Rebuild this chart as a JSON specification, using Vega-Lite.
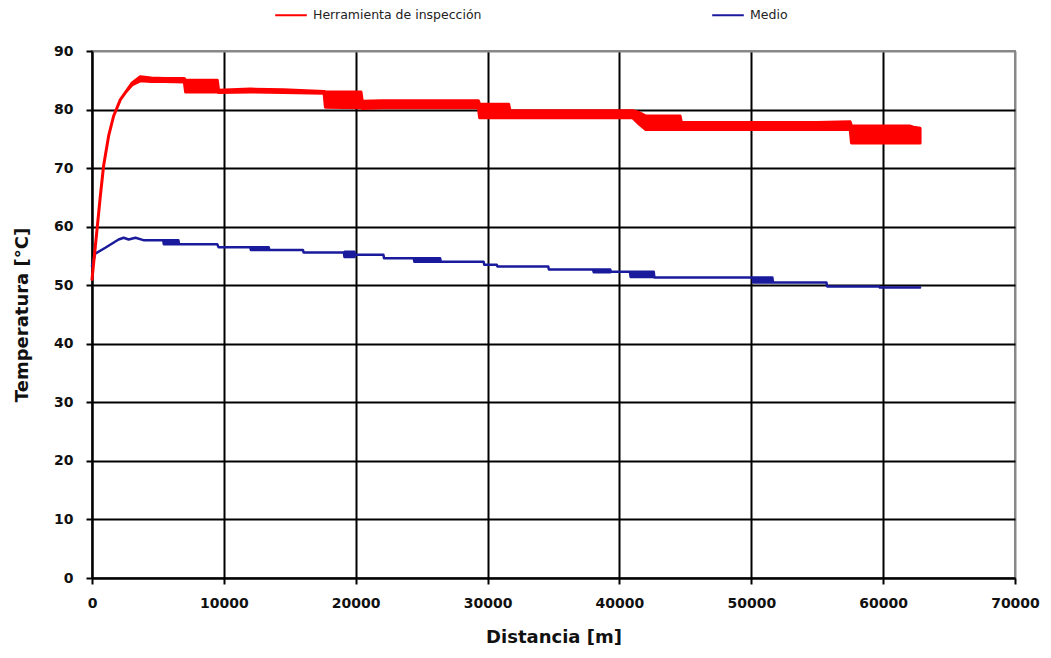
{
  "$schema": "https://vega.github.io/schema/vega-lite/v6.json",
  "width": 923,
  "height": 527,
  "autosize": {"type": "none"},
  "padding": {"left": 92, "top": 51, "right": 36, "bottom": 80},
  "background": "white",
  "config": {
    "view": {"stroke": "#888888", "strokeWidth": 2},
    "font": "DejaVu Sans",
    "axis": {
      "labelFont": "DejaVu Sans",
      "labelFontWeight": "bold",
      "labelFontSize": 14,
      "labelColor": "#111111",
      "titleFont": "DejaVu Sans",
      "titleFontWeight": "bold",
      "titleFontSize": 18,
      "titleColor": "#111111",
      "domainColor": "#000000",
      "domainWidth": 2,
      "tickColor": "#000000",
      "tickWidth": 2,
      "tickSize": 6,
      "gridWidth": 2
    }
  },
  "datasets": {
    "temps": [
      {"s": "Herramienta de inspección", "d": 0, "lo": 51, "hi": 51},
      {"s": "Herramienta de inspección", "d": 380, "lo": 59.5, "hi": 59.5},
      {"s": "Herramienta de inspección", "d": 630, "lo": 65.2, "hi": 65.2},
      {"s": "Herramienta de inspección", "d": 880, "lo": 70.4, "hi": 70.4},
      {"s": "Herramienta de inspección", "d": 1260, "lo": 75.5, "hi": 75.5},
      {"s": "Herramienta de inspección", "d": 1640, "lo": 78.9, "hi": 78.9},
      {"s": "Herramienta de inspección", "d": 2150, "lo": 81.7, "hi": 81.7},
      {"s": "Herramienta de inspección", "d": 2530, "lo": 82.9, "hi": 82.9},
      {"s": "Herramienta de inspección", "d": 3030, "lo": 84.2, "hi": 84.5},
      {"s": "Herramienta de inspección", "d": 3660, "lo": 84.9, "hi": 85.6},
      {"s": "Herramienta de inspección", "d": 4500, "lo": 84.8, "hi": 85.4},
      {"s": "Herramienta de inspección", "d": 5500, "lo": 84.8, "hi": 85.3},
      {"s": "Herramienta de inspección", "d": 7000, "lo": 84.7, "hi": 85.3},
      {"s": "Herramienta de inspección", "d": 7100, "lo": 83.0, "hi": 85.0},
      {"s": "Herramienta de inspección", "d": 9500, "lo": 83.0, "hi": 85.0},
      {"s": "Herramienta de inspección", "d": 9600, "lo": 82.9, "hi": 83.3},
      {"s": "Herramienta de inspección", "d": 12000, "lo": 83.0, "hi": 83.5},
      {"s": "Herramienta de inspección", "d": 14500, "lo": 82.9, "hi": 83.4},
      {"s": "Herramienta de inspección", "d": 17600, "lo": 82.8, "hi": 83.1},
      {"s": "Herramienta de inspección", "d": 17700, "lo": 80.4, "hi": 83.0},
      {"s": "Herramienta de inspección", "d": 20400, "lo": 80.3, "hi": 83.0},
      {"s": "Herramienta de inspección", "d": 20500, "lo": 80.2, "hi": 81.4},
      {"s": "Herramienta de inspección", "d": 22000, "lo": 80.3, "hi": 81.5},
      {"s": "Herramienta de inspección", "d": 29300, "lo": 80.3, "hi": 81.5},
      {"s": "Herramienta de inspección", "d": 29400, "lo": 78.6, "hi": 80.9},
      {"s": "Herramienta de inspección", "d": 31600, "lo": 78.6, "hi": 80.9},
      {"s": "Herramienta de inspección", "d": 31700, "lo": 78.6, "hi": 79.8},
      {"s": "Herramienta de inspección", "d": 41000, "lo": 78.6, "hi": 79.8},
      {"s": "Herramienta de inspección", "d": 41500, "lo": 77.5, "hi": 79.5},
      {"s": "Herramienta de inspección", "d": 42000, "lo": 76.6, "hi": 78.9},
      {"s": "Herramienta de inspección", "d": 44600, "lo": 76.6, "hi": 78.9},
      {"s": "Herramienta de inspección", "d": 44700, "lo": 76.6, "hi": 77.8},
      {"s": "Herramienta de inspección", "d": 55000, "lo": 76.6, "hi": 77.8},
      {"s": "Herramienta de inspección", "d": 57500, "lo": 76.6, "hi": 77.9},
      {"s": "Herramienta de inspección", "d": 57600, "lo": 74.3, "hi": 77.2},
      {"s": "Herramienta de inspección", "d": 62000, "lo": 74.3, "hi": 77.2},
      {"s": "Herramienta de inspección", "d": 62300, "lo": 74.3, "hi": 77.0},
      {"s": "Herramienta de inspección", "d": 62800, "lo": 74.3, "hi": 76.8},
      {"s": "Medio", "d": 0, "lo": 53.3, "hi": 53.3},
      {"s": "Medio", "d": 250, "lo": 55.4, "hi": 55.4},
      {"s": "Medio", "d": 1010, "lo": 56.4, "hi": 56.4},
      {"s": "Medio", "d": 2020, "lo": 57.8, "hi": 57.8},
      {"s": "Medio", "d": 2400, "lo": 58.1, "hi": 58.1},
      {"s": "Medio", "d": 2780, "lo": 57.8, "hi": 57.8},
      {"s": "Medio", "d": 3300, "lo": 58.1, "hi": 58.1},
      {"s": "Medio", "d": 3900, "lo": 57.7, "hi": 57.7},
      {"s": "Medio", "d": 5400, "lo": 57.7, "hi": 57.7},
      {"s": "Medio", "d": 5450, "lo": 57.0, "hi": 57.7},
      {"s": "Medio", "d": 6550, "lo": 57.0, "hi": 57.7},
      {"s": "Medio", "d": 6600, "lo": 57.0, "hi": 57.0},
      {"s": "Medio", "d": 9500, "lo": 57.0, "hi": 57.0},
      {"s": "Medio", "d": 9600, "lo": 56.5, "hi": 56.5},
      {"s": "Medio", "d": 12000, "lo": 56.5, "hi": 56.5},
      {"s": "Medio", "d": 12050, "lo": 56.0, "hi": 56.5},
      {"s": "Medio", "d": 13400, "lo": 56.0, "hi": 56.5},
      {"s": "Medio", "d": 13450, "lo": 56.0, "hi": 56.0},
      {"s": "Medio", "d": 16000, "lo": 56.0, "hi": 56.0},
      {"s": "Medio", "d": 16050, "lo": 55.6, "hi": 55.6},
      {"s": "Medio", "d": 19100, "lo": 55.6, "hi": 55.6},
      {"s": "Medio", "d": 19150, "lo": 54.8, "hi": 55.7},
      {"s": "Medio", "d": 19900, "lo": 54.8, "hi": 55.7},
      {"s": "Medio", "d": 19950, "lo": 55.2, "hi": 55.2},
      {"s": "Medio", "d": 22100, "lo": 55.2, "hi": 55.2},
      {"s": "Medio", "d": 22150, "lo": 54.6, "hi": 54.6},
      {"s": "Medio", "d": 24400, "lo": 54.6, "hi": 54.6},
      {"s": "Medio", "d": 24450, "lo": 54.0, "hi": 54.6},
      {"s": "Medio", "d": 26400, "lo": 54.0, "hi": 54.6},
      {"s": "Medio", "d": 26450, "lo": 54.0, "hi": 54.0},
      {"s": "Medio", "d": 29700, "lo": 54.0, "hi": 54.0},
      {"s": "Medio", "d": 29750, "lo": 53.5, "hi": 53.5},
      {"s": "Medio", "d": 30700, "lo": 53.5, "hi": 53.5},
      {"s": "Medio", "d": 30750, "lo": 53.2, "hi": 53.2},
      {"s": "Medio", "d": 34600, "lo": 53.2, "hi": 53.2},
      {"s": "Medio", "d": 34650, "lo": 52.7, "hi": 52.7},
      {"s": "Medio", "d": 38000, "lo": 52.7, "hi": 52.7},
      {"s": "Medio", "d": 38050, "lo": 52.2, "hi": 52.7},
      {"s": "Medio", "d": 39300, "lo": 52.2, "hi": 52.7},
      {"s": "Medio", "d": 39350, "lo": 52.3, "hi": 52.3},
      {"s": "Medio", "d": 40800, "lo": 52.3, "hi": 52.3},
      {"s": "Medio", "d": 40850, "lo": 51.4, "hi": 52.3},
      {"s": "Medio", "d": 42600, "lo": 51.4, "hi": 52.3},
      {"s": "Medio", "d": 42650, "lo": 51.3, "hi": 51.3},
      {"s": "Medio", "d": 50100, "lo": 51.3, "hi": 51.3},
      {"s": "Medio", "d": 50150, "lo": 50.45, "hi": 51.3},
      {"s": "Medio", "d": 51600, "lo": 50.45, "hi": 51.3},
      {"s": "Medio", "d": 51650, "lo": 50.45, "hi": 50.45},
      {"s": "Medio", "d": 55700, "lo": 50.45, "hi": 50.45},
      {"s": "Medio", "d": 55750, "lo": 49.8, "hi": 49.8},
      {"s": "Medio", "d": 59700, "lo": 49.8, "hi": 49.8},
      {"s": "Medio", "d": 59750, "lo": 49.6, "hi": 49.6},
      {"s": "Medio", "d": 62800, "lo": 49.6, "hi": 49.6}
    ]
  },
  "data": {"name": "temps"},
  "encoding": {
    "x": {
      "field": "d",
      "type": "quantitative",
      "scale": {"domain": [0, 70000], "nice": false, "zero": true},
      "axis": {
        "title": "Distancia [m]",
        "values": [0, 10000, 20000, 30000, 40000, 50000, 60000, 70000],
        "format": "d",
        "labelPadding": 12,
        "titlePadding": 18,
        "gridColor": {"condition": {"test": "datum.value == 70000", "value": "#888888"}, "value": "#000000"},
        "labelFlush": false
      }
    },
    "y": {
      "field": "lo",
      "type": "quantitative",
      "scale": {"domain": [0, 90], "nice": false},
      "axis": {
        "title": "Temperatura [°C]",
        "values": [0, 10, 20, 30, 40, 50, 60, 70, 80, 90],
        "labelPadding": 13,
        "titlePadding": 22,
        "gridColor": {"condition": {"test": "datum.value == 90", "value": "#888888"}, "value": "#000000"}
      }
    },
    "y2": {"field": "hi"}
  },
  "layer": [
    {
      "transform": [{"filter": "datum.s == 'Medio'"}],
      "mark": {"type": "area", "opacity": 1, "strokeWidth": 2.5, "strokeJoin": "round", "fill": "#1a1a9c"},
      "encoding": {
        "stroke": {
          "field": "s",
          "type": "nominal",
          "scale": {"domain": ["Herramienta de inspección", "Medio"], "range": ["#ff0000", "#1a1a9c"]},
          "legend": {
            "title": null,
            "orient": "none",
            "legendX": 182,
            "legendY": -53,
            "direction": "horizontal",
            "symbolType": "stroke",
            "symbolSize": 1000,
            "symbolStrokeWidth": 2,
            "labelFont": "DejaVu Sans",
            "labelFontSize": 12.5,
            "labelColor": "#222222",
            "labelLimit": 400,
            "labelOffset": 5,
            "columnPadding": 226
          }
        }
      }
    },
    {
      "transform": [{"filter": "datum.s != 'Medio'"}],
      "mark": {"type": "area", "opacity": 1, "strokeWidth": 3, "strokeJoin": "round", "fill": "#ff0000"},
      "encoding": {
        "stroke": {"field": "s", "type": "nominal"}
      }
    }
  ]
}
